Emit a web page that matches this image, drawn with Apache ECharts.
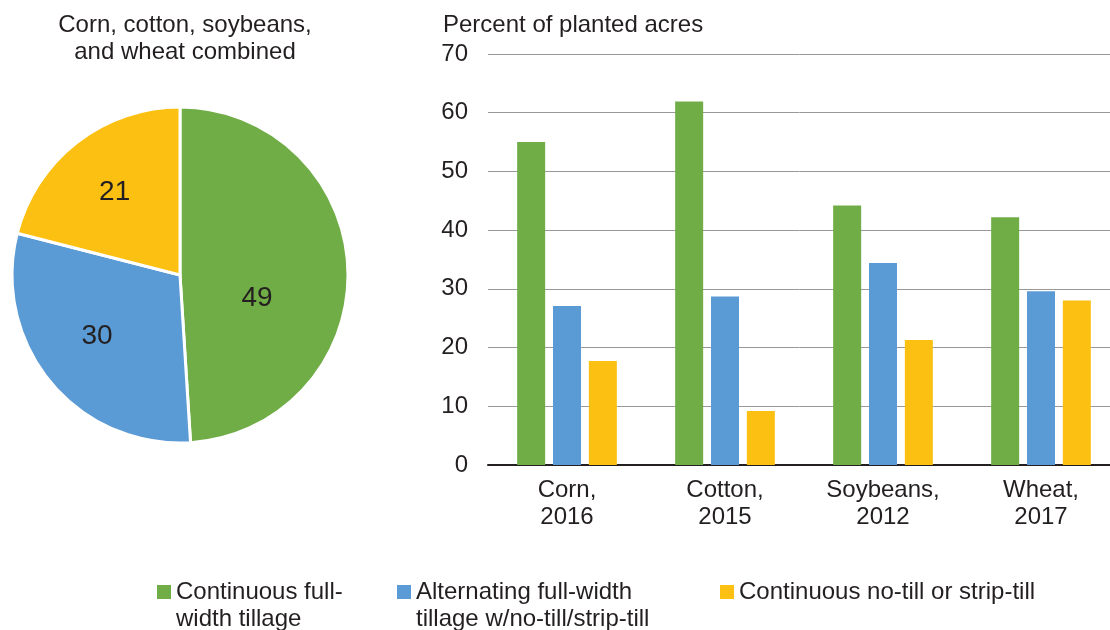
<!DOCTYPE html>
<html>
<head>
<meta charset="utf-8">
<script src="https://cdn.jsdelivr.net/npm/echarts@6/dist/echarts.min.js"></script>
<style>
html,body{margin:0;padding:0;background:#fff;}
#chart{width:1110px;height:630px;}
</style>
</head>
<body>
<div id="chart"></div>
<script>
const categories = ['Corn,\n2016', 'Cotton,\n2015', 'Soybeans,\n2012', 'Wheat,\n2017'];
const seriesNames = ['Continuous full-\nwidth tillage', 'Alternating full-width\ntillage w/no-till/strip-till', 'Continuous no-till or strip-till'];
const continuousFull = [55.0, 61.9, 44.2, 42.2];
const alternating = [27.1, 28.7, 34.4, 29.6];
const noTill = [17.7, 9.2, 21.3, 28.0];
const pieValues = [49, 30, 21];
const yTicks = [0, 10, 20, 30, 40, 50, 60, 70];
const colors = ['#70AD47', '#5B9BD5', '#FBC012'];

const FONT = '"Liberation Sans", Arial, Helvetica, sans-serif';
const TXT = '#231f20';
const FS = 24;
const LH = 27;
const ICON = 14;

const chart = echarts.init(document.getElementById('chart'));

function legendAt(i, left) {
  const multi = seriesNames[i].indexOf('\n') >= 0;
  return {
    data: [seriesNames[i]],
    left: left,
    top: multi ? 592 - 1.5 * LH : 592 - LH / 2,
    padding: 0,
    itemWidth: ICON,
    itemHeight: ICON,
    icon: 'rect',
    selectedMode: false,
    formatter: function (n) { return multi ? '\n' + n : n; },
    textStyle: {fontFamily: FONT, fontSize: FS, color: TXT, lineHeight: LH}
  };
}

const pieLabelOffsets = [[-10, 26], [-16, 6], [-12, -14]];

const option = {
  backgroundColor: '#fff',
  animation: false,
  title: [
    {text: 'Corn, cotton, soybeans,\nand wheat combined', left: 180, textAlign: 'center', top: 7,
     textStyle: {fontFamily: FONT, fontSize: FS, fontWeight: 'normal', color: TXT, lineHeight: LH}},
    {text: 'Percent of planted acres', left: 438, top: 7,
     textStyle: {fontFamily: FONT, fontSize: FS, fontWeight: 'normal', color: TXT, lineHeight: LH}}
  ],
  legend: [legendAt(0, 157), legendAt(1, 397), legendAt(2, 720)],
  grid: {left: 488, top: 54, right: -10, bottom: 165, containLabel: false, outerBoundsMode: 'none'},
  xAxis: {
    type: 'category',
    data: categories,
    axisLine: {lineStyle: {color: '#231f20', width: 2}},
    axisTick: {show: false},
    axisLabel: {fontFamily: FONT, fontSize: FS, color: TXT, lineHeight: LH, margin: 12, interval: 0}
  },
  yAxis: {
    type: 'value',
    min: yTicks[0],
    max: yTicks[yTicks.length - 1],
    interval: 10,
    axisLine: {show: false},
    axisTick: {show: false},
    axisLabel: {fontFamily: FONT, fontSize: FS, color: TXT, margin: 20},
    splitLine: {lineStyle: {color: '#999999', width: 1}}
  },
  series: [
    {name: seriesNames[0], type: 'bar', data: continuousFull, barWidth: 28, barGap: '28%', itemStyle: {color: colors[0]}},
    {name: seriesNames[1], type: 'bar', data: alternating, barWidth: 28, barGap: '28%', itemStyle: {color: colors[1]}},
    {name: seriesNames[2], type: 'bar', data: noTill, barWidth: 28, barGap: '28%', itemStyle: {color: colors[2]}},
    {
      type: 'pie',
      center: [180, 275],
      radius: [0, 168],
      startAngle: 90,
      clockwise: true,
      silent: true,
      data: pieValues.map((v, i) => ({value: v, name: 'p' + i, itemStyle: {color: colors[i]}, label: {offset: pieLabelOffsets[i]}})),
      itemStyle: {borderColor: '#fff', borderWidth: 3},
      label: {show: true, position: 'inside', formatter: '{c}', fontFamily: FONT, fontSize: 28, color: TXT},
      labelLine: {show: false}
    }
  ]
};
chart.setOption(option);
</script>
</body>
</html>
